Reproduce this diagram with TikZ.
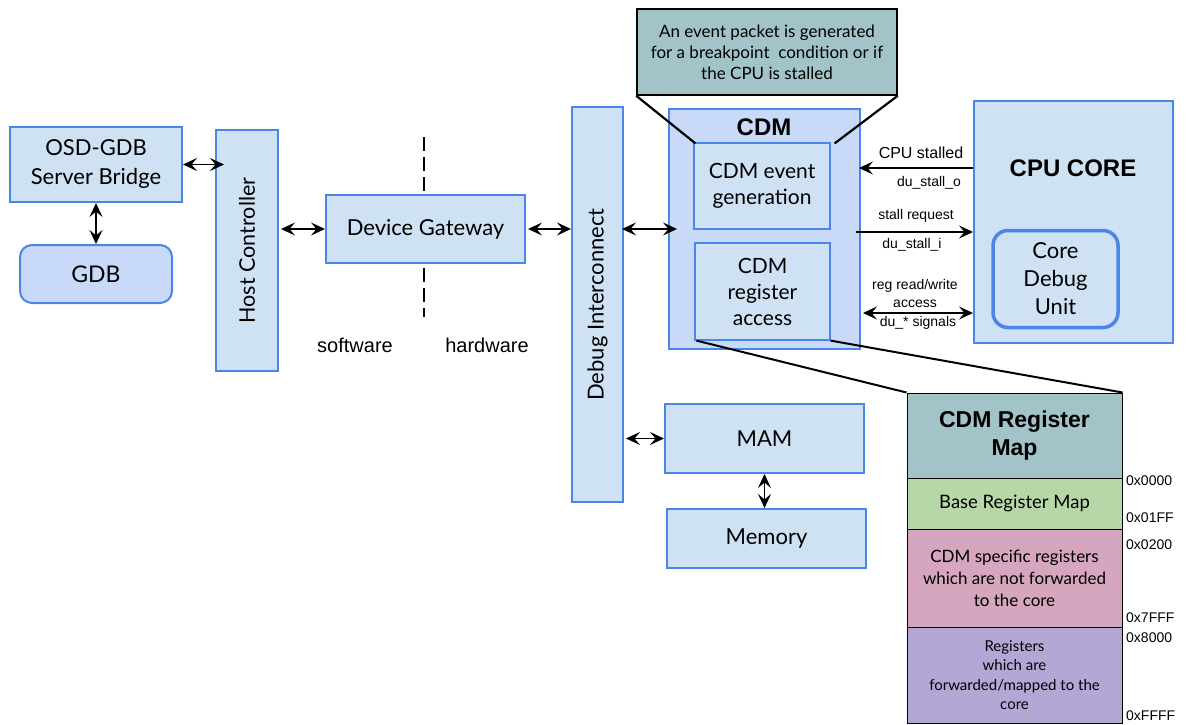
\documentclass[tikz,border=0pt]{standalone}
\usepackage{fontspec}
\setmainfont{Lato}
\newfontfamily\arial{Liberation Sans}
\usetikzlibrary{arrows.meta}
\definecolor{lb}{HTML}{CFE2F3}
\definecolor{mb}{HTML}{C9DAF8}
\definecolor{bb}{HTML}{4A86E8}
\definecolor{tl}{HTML}{A2C4C9}
\definecolor{grn}{HTML}{B6D7A8}
\definecolor{pnk}{HTML}{D5A6BD}
\definecolor{prp}{HTML}{B4A7D6}
\begin{document}
\begin{tikzpicture}[x=1pt,y=-1pt,
  box/.style={draw=bb, fill=lb, line width=2pt, inner sep=0pt, align=center,
    font=\fontsize{21}{26}\selectfont},
  inbox/.style={box, line width=1.2pt},
  dconn/.style={line width=1.8pt, {Stealth[length=14pt,width=13pt,inset=5.5pt]}-{Stealth[length=14pt,width=13pt,inset=5.5pt]}},
  rconn/.style={line width=1.8pt, -{Stealth[length=14pt,width=13pt,inset=5.5pt]}},
  lbl/.style={font=\arial\fontsize{14}{16}\selectfont, inner sep=0pt},
  regbox/.style={draw=black, line width=1pt, inner sep=0pt, align=center, minimum width=215pt,
    font=\fontsize{17}{22}\selectfont},
  hex/.style={font=\arial\fontsize{14}{16}\selectfont, anchor=west, inner sep=0pt},
  callline/.style={line width=2.2pt, black}
]
\useasboundingbox (0,0) rectangle (1186,725);

% left side
\node[box, minimum width=172pt, minimum height=75pt, font=\fontsize{22}{29}\selectfont] (osd) at (96,164.5) {OSD-GDB\\Server Bridge};
\node[box, fill=mb, rounded corners=12pt, minimum width=152pt, minimum height=58pt, font=\fontsize{23}{26}\selectfont] (gdb) at (96,274) {GDB};
\node[box, minimum width=62pt, minimum height=241pt] (host) at (247,250.5) {};
\node[rotate=90, font=\fontsize{21.5}{26}\selectfont, inner sep=0pt] (hostt) at (host.center) {Host Controller};
\node[box, minimum width=199pt, minimum height=68pt, font=\fontsize{22}{26}\selectfont] (dg) at (425.5,229) {Device Gateway};
\node[box, minimum width=51pt, minimum height=395pt] (di) at (597.5,304.5) {};
\node[rotate=90, font=\fontsize{22}{26}\selectfont, inner sep=0pt] (dit) at (di.center) {Debug Interconnect};

% dashed divider
\coordinate (dtop) at (424,135);
\coordinate (dbot) at (424,317);
\draw[line width=2.6pt, dash pattern=on 14pt off 6pt] (dg.north -| dtop) ++(0,-3) -- (dtop);
\draw[line width=2.6pt, dash pattern=on 14pt off 6pt] (dg.south -| dbot) ++(0,4) -- (dbot);
\node[font=\arial\fontsize{20}{24}\selectfont, inner sep=0pt] (sw) at (355,345) {software};
\node[font=\arial\fontsize{20}{24}\selectfont, inner sep=0pt] (hw) at (487,345) {hardware};

% CDM
\node[box, fill=mb, minimum width=191pt, minimum height=240pt] (cdm) at (764.5,229) {};
\node[font=\arial\bfseries\fontsize{24}{28}\selectfont, inner sep=0pt] (cdmt) at (764,127) {CDM};
\node[inbox, minimum width=136pt, minimum height=86pt] (evt) at (762,186) {CDM event\\generation};
\node[inbox, minimum width=135pt, minimum height=97pt] (rac) at (762.5,291.5) {CDM\\register\\access};

% callout
\node[draw=black, fill=tl, line width=1.5pt, minimum width=260pt, minimum height=86pt, inner sep=0pt,
  align=center, font=\fontsize{17}{21}\selectfont] (call) at (767,52) {An event packet is generated\\for a breakpoint\ \ condition or if\\the CPU is stalled};
\draw[callline] (call.south west) -- ([xshift=2pt,yshift=-1pt]evt.north west);
\draw[callline] (call.south east) -- ([xshift=4pt,yshift=-1pt]evt.north east);

% CPU core
\node[box, minimum width=199pt, minimum height=242pt] (cpu) at (1073.5,222) {};
\node[font=\arial\bfseries\fontsize{24}{28}\selectfont, inner sep=0pt] (cput) at (1073,168) {CPU CORE};
\node[box, line width=3.5pt, rounded corners=15pt, minimum width=125pt, minimum height=97pt,
  font=\fontsize{22}{28}\selectfont] (cdu) at (1055.5,279) {Core\\Debug\\Unit};

% MAM, Memory
\node[box, minimum width=199pt, minimum height=69pt, font=\fontsize{22}{26}\selectfont] (mam) at (764.5,438.5) {MAM};
\node[box, minimum width=199pt, minimum height=59pt, font=\fontsize{22}{26}\selectfont] (mem) at (766.5,538.5) {Memory};

% connectors
\draw[dconn] (osd.east) -- ([xshift=9pt]osd.east -| host.west);
\draw[dconn] (osd.south) -- (gdb.north);
\draw[dconn] ([xshift=2pt]host.east |- dg.west) -- (dg.west);
\draw[dconn] ([xshift=2pt]dg.east) -- (dg.east -| di.west);
\draw[dconn] ([xshift=-2pt]di.east |- 0,229) -- ([xshift=9pt]cdm.west |- 0,229);
\draw[dconn] ([xshift=2pt]di.east |- mam.west) -- (mam.west);
\draw[dconn] (mam.south) -- (mam.south |- mem.north);

% CDM <-> CPU signals
\draw[rconn] (cpu.west |- 0,168) -- ([xshift=-2pt]cdm.east |- 0,168);
\node[lbl, font=\arial\fontsize{16}{18}\selectfont] (l1) at (921,153) {CPU stalled};
\node[lbl] (l2) at (929,183) {du\_stall\_o};
\draw[rconn] ([xshift=-5pt]cdm.east |- 0,232) -- (cpu.west |- 0,232);
\node[lbl] (l3) at (916,216) {stall request};
\node[lbl] (l4) at (912,245) {du\_stall\_i};
\draw[dconn] ([xshift=2pt]cdm.east |- 0,313) -- (cpu.west |- 0,313);
\node[lbl, align=center, font=\arial\fontsize{14}{18}\selectfont] (l5) at (915,293) {reg read/write\\access};
\node[lbl] (l6) at (918,323) {du\_* signals};

% register map
\node[regbox, fill=tl, minimum height=85pt, font=\arial\bfseries\fontsize{23}{28}\selectfont] (rt) at (1014.5,435.5) {CDM Register\\Map};
\node[regbox, fill=grn, minimum height=51pt, font=\fontsize{18.5}{22}\selectfont] (rg) at (1014.5,503.5) {Base Register Map};
\node[regbox, fill=pnk, minimum height=98pt] (rp) at (1014.5,578) {CDM specific registers\\which are not forwarded\\to the core};
\node[regbox, fill=prp, minimum height=96pt, font=\fontsize{15}{19.5}\selectfont] (rv) at (1014.5,675) {Registers\\which are\\forwarded/mapped to the\\core};
\draw[callline, line width=2pt] ([xshift=2pt]rac.south west) -- (rt.north west);
\draw[callline, line width=2pt] (rac.south east) -- (rt.north east);
\node[hex] (h1) at (1126,481) {0x0000};
\node[hex] (h2) at (1126,518) {0x01FF};
\node[hex] (h3) at (1126,545) {0x0200};
\node[hex] (h4) at (1126,618) {0x7FFF};
\node[hex] (h5) at (1126,638) {0x8000};
\node[hex] (h6) at (1126,716) {0xFFFF};
\end{tikzpicture}
\end{document}
